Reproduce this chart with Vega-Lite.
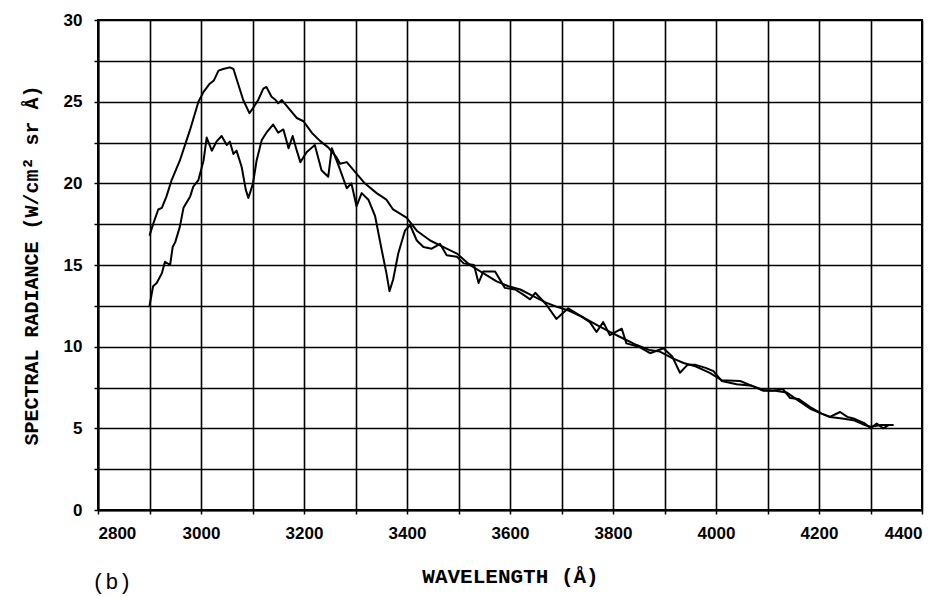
{
  "$schema": "https://vega.github.io/schema/vega-lite/v6.json",
  "width": 824,
  "height": 490,
  "autosize": {"type": "none"},
  "padding": {"left": 98, "top": 20, "right": 19, "bottom": 87},
  "background": "white",
  "title": {"text": "(b)", "orient": "bottom", "anchor": "start", "frame": "group", "dx": -6, "offset": -14, "font": "Liberation Mono", "fontSize": 22, "fontWeight": "normal", "color": "black"},
  "config": {"view": {"stroke": "black", "strokeWidth": 2}},
  "datasets": {
    "curves": [
      {"wl": 2900, "rad": 16.8, "s": "A"}, {"wl": 2907, "rad": 17.5, "s": "A"}, {"wl": 2917, "rad": 18.4, "s": "A"}, {"wl": 2924, "rad": 18.5, "s": "A"}, {"wl": 2933, "rad": 19.2, "s": "A"}, {"wl": 2943, "rad": 20.2, "s": "A"}, {"wl": 2959, "rad": 21.4, "s": "A"}, {"wl": 2979, "rad": 23.3, "s": "A"}, {"wl": 2995, "rad": 25.0, "s": "A"}, {"wl": 3005, "rad": 25.6, "s": "A"}, {"wl": 3017, "rad": 26.1, "s": "A"}, {"wl": 3025, "rad": 26.3, "s": "A"}, {"wl": 3034, "rad": 26.9, "s": "A"}, {"wl": 3043, "rad": 27.0, "s": "A"}, {"wl": 3056, "rad": 27.1, "s": "A"}, {"wl": 3063, "rad": 27.0, "s": "A"}, {"wl": 3072, "rad": 26.1, "s": "A"}, {"wl": 3082, "rad": 25.1, "s": "A"}, {"wl": 3094, "rad": 24.3, "s": "A"}, {"wl": 3101, "rad": 24.6, "s": "A"}, {"wl": 3111, "rad": 25.1, "s": "A"}, {"wl": 3121, "rad": 25.8, "s": "A"}, {"wl": 3127, "rad": 25.9, "s": "A"}, {"wl": 3137, "rad": 25.3, "s": "A"}, {"wl": 3145, "rad": 25.1, "s": "A"}, {"wl": 3150, "rad": 24.9, "s": "A"}, {"wl": 3157, "rad": 25.1, "s": "A"}, {"wl": 3170, "rad": 24.6, "s": "A"}, {"wl": 3186, "rad": 24.0, "s": "A"}, {"wl": 3199, "rad": 23.8, "s": "A"}, {"wl": 3215, "rad": 23.1, "s": "A"}, {"wl": 3231, "rad": 22.6, "s": "A"}, {"wl": 3247, "rad": 22.2, "s": "A"}, {"wl": 3263, "rad": 21.6, "s": "A"}, {"wl": 3270, "rad": 21.2, "s": "A"}, {"wl": 3283, "rad": 21.3, "s": "A"}, {"wl": 3302, "rad": 20.6, "s": "A"}, {"wl": 3318, "rad": 20.0, "s": "A"}, {"wl": 3341, "rad": 19.4, "s": "A"}, {"wl": 3360, "rad": 19.0, "s": "A"}, {"wl": 3373, "rad": 18.4, "s": "A"}, {"wl": 3399, "rad": 17.9, "s": "A"}, {"wl": 3419, "rad": 17.1, "s": "A"}, {"wl": 3445, "rad": 16.5, "s": "A"}, {"wl": 3471, "rad": 16.1, "s": "A"}, {"wl": 3497, "rad": 15.7, "s": "A"}, {"wl": 3522, "rad": 15.0, "s": "A"}, {"wl": 3548, "rad": 14.5, "s": "A"}, {"wl": 3574, "rad": 14.0, "s": "A"}, {"wl": 3597, "rad": 13.7, "s": "A"}, {"wl": 3620, "rad": 13.5, "s": "A"}, {"wl": 3645, "rad": 13.1, "s": "A"}, {"wl": 3670, "rad": 12.7, "s": "A"}, {"wl": 3690, "rad": 12.45, "s": "A"}, {"wl": 3715, "rad": 12.2, "s": "A"}, {"wl": 3742, "rad": 11.8, "s": "A"}, {"wl": 3770, "rad": 11.3, "s": "A"}, {"wl": 3794, "rad": 10.9, "s": "A"}, {"wl": 3820, "rad": 10.5, "s": "A"}, {"wl": 3846, "rad": 10.1, "s": "A"}, {"wl": 3870, "rad": 9.8, "s": "A"}, {"wl": 3891, "rad": 9.7, "s": "A"}, {"wl": 3915, "rad": 9.3, "s": "A"}, {"wl": 3937, "rad": 9.0, "s": "A"}, {"wl": 3960, "rad": 8.8, "s": "A"}, {"wl": 3988, "rad": 8.4, "s": "A"}, {"wl": 4011, "rad": 7.95, "s": "A"}, {"wl": 4047, "rad": 7.9, "s": "A"}, {"wl": 4070, "rad": 7.6, "s": "A"}, {"wl": 4092, "rad": 7.35, "s": "A"}, {"wl": 4115, "rad": 7.3, "s": "A"}, {"wl": 4137, "rad": 7.2, "s": "A"}, {"wl": 4160, "rad": 6.7, "s": "A"}, {"wl": 4183, "rad": 6.2, "s": "A"}, {"wl": 4205, "rad": 5.9, "s": "A"}, {"wl": 4221, "rad": 5.7, "s": "A"}, {"wl": 4245, "rad": 5.6, "s": "A"}, {"wl": 4267, "rad": 5.5, "s": "A"}, {"wl": 4289, "rad": 5.2, "s": "A"}, {"wl": 4300, "rad": 5.1, "s": "A"}, {"wl": 4320, "rad": 5.2, "s": "A"}, {"wl": 4345, "rad": 5.2, "s": "A"},
      {"wl": 2900, "rad": 12.5, "s": "B"}, {"wl": 2907, "rad": 13.7, "s": "B"}, {"wl": 2914, "rad": 13.9, "s": "B"}, {"wl": 2924, "rad": 14.5, "s": "B"}, {"wl": 2930, "rad": 15.2, "s": "B"}, {"wl": 2940, "rad": 15.0, "s": "B"}, {"wl": 2945, "rad": 16.1, "s": "B"}, {"wl": 2950, "rad": 16.4, "s": "B"}, {"wl": 2959, "rad": 17.35, "s": "B"}, {"wl": 2966, "rad": 18.5, "s": "B"}, {"wl": 2979, "rad": 19.2, "s": "B"}, {"wl": 2985, "rad": 19.8, "s": "B"}, {"wl": 2995, "rad": 20.2, "s": "B"}, {"wl": 3005, "rad": 21.4, "s": "B"}, {"wl": 3011, "rad": 22.8, "s": "B"}, {"wl": 3021, "rad": 22.0, "s": "B"}, {"wl": 3030, "rad": 22.55, "s": "B"}, {"wl": 3040, "rad": 22.9, "s": "B"}, {"wl": 3050, "rad": 22.35, "s": "B"}, {"wl": 3056, "rad": 22.55, "s": "B"}, {"wl": 3063, "rad": 21.8, "s": "B"}, {"wl": 3069, "rad": 22.0, "s": "B"}, {"wl": 3079, "rad": 21.0, "s": "B"}, {"wl": 3087, "rad": 19.6, "s": "B"}, {"wl": 3092, "rad": 19.1, "s": "B"}, {"wl": 3101, "rad": 20.0, "s": "B"}, {"wl": 3108, "rad": 21.4, "s": "B"}, {"wl": 3118, "rad": 22.65, "s": "B"}, {"wl": 3127, "rad": 23.1, "s": "B"}, {"wl": 3140, "rad": 23.6, "s": "B"}, {"wl": 3150, "rad": 23.1, "s": "B"}, {"wl": 3160, "rad": 23.3, "s": "B"}, {"wl": 3170, "rad": 22.15, "s": "B"}, {"wl": 3178, "rad": 22.9, "s": "B"}, {"wl": 3186, "rad": 22.0, "s": "B"}, {"wl": 3193, "rad": 21.3, "s": "B"}, {"wl": 3205, "rad": 21.9, "s": "B"}, {"wl": 3221, "rad": 22.35, "s": "B"}, {"wl": 3234, "rad": 20.8, "s": "B"}, {"wl": 3247, "rad": 20.4, "s": "B"}, {"wl": 3254, "rad": 22.15, "s": "B"}, {"wl": 3267, "rad": 21.1, "s": "B"}, {"wl": 3283, "rad": 19.7, "s": "B"}, {"wl": 3292, "rad": 20.0, "s": "B"}, {"wl": 3302, "rad": 18.6, "s": "B"}, {"wl": 3312, "rad": 19.4, "s": "B"}, {"wl": 3325, "rad": 19.0, "s": "B"}, {"wl": 3338, "rad": 18.0, "s": "B"}, {"wl": 3351, "rad": 15.9, "s": "B"}, {"wl": 3360, "rad": 14.5, "s": "B"}, {"wl": 3366, "rad": 13.4, "s": "B"}, {"wl": 3373, "rad": 14.1, "s": "B"}, {"wl": 3383, "rad": 15.7, "s": "B"}, {"wl": 3396, "rad": 17.1, "s": "B"}, {"wl": 3406, "rad": 17.45, "s": "B"}, {"wl": 3419, "rad": 16.5, "s": "B"}, {"wl": 3432, "rad": 16.1, "s": "B"}, {"wl": 3448, "rad": 16.0, "s": "B"}, {"wl": 3464, "rad": 16.3, "s": "B"}, {"wl": 3477, "rad": 15.6, "s": "B"}, {"wl": 3497, "rad": 15.5, "s": "B"}, {"wl": 3510, "rad": 15.1, "s": "B"}, {"wl": 3530, "rad": 15.0, "s": "B"}, {"wl": 3539, "rad": 13.9, "s": "B"}, {"wl": 3548, "rad": 14.6, "s": "B"}, {"wl": 3571, "rad": 14.6, "s": "B"}, {"wl": 3590, "rad": 13.6, "s": "B"}, {"wl": 3610, "rad": 13.5, "s": "B"}, {"wl": 3625, "rad": 13.2, "s": "B"}, {"wl": 3639, "rad": 12.9, "s": "B"}, {"wl": 3649, "rad": 13.3, "s": "B"}, {"wl": 3670, "rad": 12.6, "s": "B"}, {"wl": 3690, "rad": 11.7, "s": "B"}, {"wl": 3713, "rad": 12.35, "s": "B"}, {"wl": 3736, "rad": 11.9, "s": "B"}, {"wl": 3755, "rad": 11.5, "s": "B"}, {"wl": 3768, "rad": 10.9, "s": "B"}, {"wl": 3781, "rad": 11.5, "s": "B"}, {"wl": 3794, "rad": 10.7, "s": "B"}, {"wl": 3817, "rad": 11.1, "s": "B"}, {"wl": 3826, "rad": 10.2, "s": "B"}, {"wl": 3850, "rad": 10.0, "s": "B"}, {"wl": 3872, "rad": 9.6, "s": "B"}, {"wl": 3898, "rad": 9.9, "s": "B"}, {"wl": 3915, "rad": 9.4, "s": "B"}, {"wl": 3930, "rad": 8.4, "s": "B"}, {"wl": 3945, "rad": 8.9, "s": "B"}, {"wl": 3959, "rad": 8.9, "s": "B"}, {"wl": 3980, "rad": 8.7, "s": "B"}, {"wl": 3995, "rad": 8.5, "s": "B"}, {"wl": 4011, "rad": 7.9, "s": "B"}, {"wl": 4040, "rad": 7.7, "s": "B"}, {"wl": 4070, "rad": 7.6, "s": "B"}, {"wl": 4092, "rad": 7.3, "s": "B"}, {"wl": 4110, "rad": 7.3, "s": "B"}, {"wl": 4130, "rad": 7.4, "s": "B"}, {"wl": 4144, "rad": 6.85, "s": "B"}, {"wl": 4160, "rad": 6.8, "s": "B"}, {"wl": 4183, "rad": 6.3, "s": "B"}, {"wl": 4205, "rad": 5.9, "s": "B"}, {"wl": 4221, "rad": 5.7, "s": "B"}, {"wl": 4241, "rad": 6.0, "s": "B"}, {"wl": 4255, "rad": 5.7, "s": "B"}, {"wl": 4267, "rad": 5.6, "s": "B"}, {"wl": 4289, "rad": 5.3, "s": "B"}, {"wl": 4300, "rad": 5.0, "s": "B"}, {"wl": 4312, "rad": 5.3, "s": "B"}, {"wl": 4325, "rad": 5.0, "s": "B"}, {"wl": 4335, "rad": 5.2, "s": "B"}
    ]
  },
  "data": {"name": "curves"},
  "mark": {"type": "line", "color": "black", "strokeWidth": 2, "strokeJoin": "round"},
  "encoding": {
    "x": {
      "field": "wl", "type": "quantitative",
      "scale": {"domain": [2800, 4400], "nice": false, "zero": false},
      "axis": {
        "title": "WAVELENGTH (Å)",
        "values": [2800, 2900, 3000, 3100, 3200, 3300, 3400, 3500, 3600, 3700, 3800, 3900, 4000, 4100, 4200, 4300, 4400],
        "format": "d",
        "labelExpr": "datum.value % 200 === 0 ? datum.label : ''",
        "grid": true, "gridColor": "black", "gridWidth": 1.6, "gridOpacity": 1,
        "domainColor": "black", "domainWidth": 2,
        "tickColor": "black", "tickSize": 4, "tickWidth": 1.5,
        "labelFont": "Liberation Sans", "labelFontWeight": "bold", "labelFontSize": 17, "labelColor": "black", "labelPadding": 11,
        "titleFont": "Liberation Mono", "titleFontWeight": "bold", "titleFontSize": 21, "titleColor": "black", "titlePadding": 24
      }
    },
    "y": {
      "field": "rad", "type": "quantitative",
      "scale": {"domain": [0, 30], "nice": false},
      "axis": {
        "title": "SPECTRAL RADIANCE (W/cm² sr Å)",
        "values": [0, 2.5, 5, 7.5, 10, 12.5, 15, 17.5, 20, 22.5, 25, 27.5, 30],
        "labelExpr": "datum.value % 5 === 0 ? format(datum.value, 'd') : ''",
        "grid": true, "gridColor": "black", "gridWidth": 1.6, "gridOpacity": 1,
        "domainColor": "black", "domainWidth": 2,
        "tickColor": "black", "tickSize": 4, "tickWidth": 1.5,
        "labelFont": "Liberation Sans", "labelFontWeight": "bold", "labelFontSize": 17, "labelColor": "black", "labelPadding": 12,
        "titleFont": "Liberation Mono", "titleFontWeight": "bold", "titleFontSize": 20, "titleColor": "black", "titlePadding": 22
      }
    },
    "detail": {"field": "s", "type": "nominal"}
  }
}
